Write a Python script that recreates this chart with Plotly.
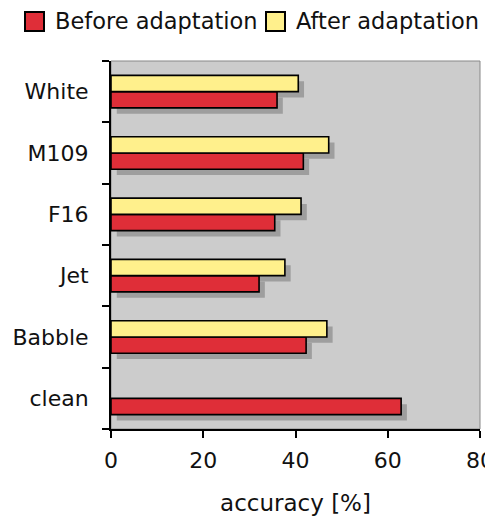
import plotly.graph_objects as go

categories = ["clean", "Babble", "Jet", "F16", "M109", "White"]
before = [62.9, 42.3, 32.1, 35.5, 41.7, 36.0]
after = [None, 46.8, 37.7, 41.2, 47.2, 40.6]
series_names = ["Before adaptation", "After adaptation"]
x_ticks = [0, 20, 40, 60, 80]

RED = "#DF2E38"
YEL = "#FFF08C"
BG = "#CCCCCC"
FONT = "DejaVu Sans"
TXT = "#111111"
BARGAP = 0.47

# page is offset by the default 8px body margin
W, H = 485, 513
ML, MR, MT, MB = 103, 13, 53, 92
PW, PH = W - ML - MR, H - MT - MB


def px_x(page_x):
    return (page_x - 8 - ML) / PW


def px_y(page_y):
    return (H - MB - (page_y - 8)) / PH


fig = go.Figure()
fig.add_trace(go.Bar(y=categories, x=before, orientation="h", name=series_names[0],
                     showlegend=False,
                     marker=dict(color=RED, line=dict(color="black", width=1.6))))
fig.add_trace(go.Bar(y=categories, x=after, orientation="h", name=series_names[1],
                     showlegend=False,
                     marker=dict(color=YEL, line=dict(color="black", width=1.6))))

# drop shadows derived from the data
bw = (1 - BARGAP) / 2
dx, dy = 1.25, 0.095
for i, cat in enumerate(categories):
    for val, off in ((before[i], -bw / 2), (after[i], bw / 2)):
        if val is None:
            continue
        c = i + off
        fig.add_shape(type="rect", xref="x", yref="y", layer="below",
                      x0=dx, x1=val + dx, y0=c - bw / 2 - dy, y1=c + bw / 2 - dy,
                      fillcolor="#9E9E9E", line=dict(width=0))

# thin frame on top/right of plot area
fig.add_shape(type="rect", xref="paper", yref="paper", x0=0, x1=1, y0=0, y1=1,
              line=dict(color="#888888", width=1), layer="below")

# custom legend (larger swatches as in the reference)
legend_items = [(series_names[0], RED, 25), (series_names[1], YEL, 266)]
for name, col, sx in legend_items:
    fig.add_shape(type="rect", xref="paper", yref="paper",
                  x0=px_x(sx), x1=px_x(sx + 19), y0=px_y(31), y1=px_y(12),
                  fillcolor=col, line=dict(color="black", width=2))
    fig.add_annotation(xref="paper", yref="paper", x=px_x(sx + 28), y=px_y(21),
                       xanchor="left", yanchor="middle", text=name, showarrow=False,
                       font=dict(size=22.5, family=FONT, color=TXT))

fig.update_layout(
    width=W, height=H,
    margin=dict(l=ML, r=MR, t=MT, b=MB, autoexpand=False),
    paper_bgcolor="white", plot_bgcolor=BG,
    barmode="group", bargap=BARGAP, bargroupgap=0,
    font=dict(family=FONT, size=22, color=TXT),
    showlegend=False,
    xaxis=dict(range=[0, 80], tickvals=x_ticks, showgrid=False, zeroline=False,
               showline=True, linecolor="black", linewidth=2, ticks="outside", ticklen=7,
               tickwidth=2, tickcolor="black", ticklabeloverflow="allow",
               ticklabelstandoff=4,
               title=dict(text="accuracy [%]", font=dict(size=23), standoff=22)),
    yaxis=dict(showgrid=False, zeroline=False, showline=True, linecolor="black", linewidth=2,
               ticks="outside", ticklen=7, tickwidth=2, tickcolor="black",
               ticklabelstandoff=16,
               tickson="boundaries", range=[-0.5, 5.5]),
)

fig.write_html("out.html")
